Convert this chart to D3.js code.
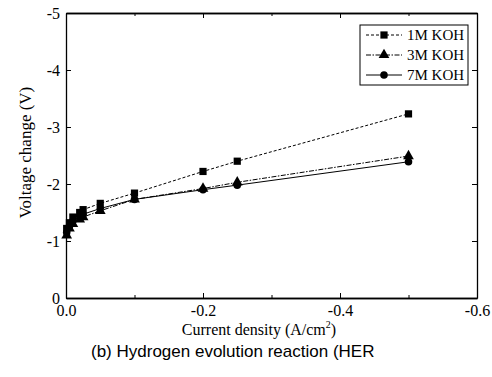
<!DOCTYPE html>
<html>
<head>
<meta charset="utf-8">
<script src="https://cdn.jsdelivr.net/npm/d3@7"></script>
<style>
  body { margin: 0; background: #fff; }
  svg { display: block; }
  .tick text { font-family: "Liberation Serif", serif; font-size: 16px; fill: #000; }
</style>
</head>
<body>
<div class="container"></div>
<script>
// current density (A/cm2) and voltage change (V)
var currentDensity = [-0.001, -0.005, -0.01, -0.02, -0.025, -0.05, -0.1, -0.2, -0.25, -0.5];
var koh1M = [-1.22, -1.32, -1.42, -1.50, -1.55, -1.66, -1.84, -2.22, -2.40, -3.23];
var koh3M = [-1.10, -1.22, -1.30, -1.38, -1.42, -1.53, -1.73, -1.92, -2.03, -2.49];
var koh7M = [-1.15, -1.26, -1.35, -1.43, -1.47, -1.57, -1.73, -1.90, -1.98, -2.39];
var seriesNames = ["1M KOH", "3M KOH", "7M KOH"];
var xTicks = [0, -0.2, -0.4, -0.6];
var xMinorTicks = [-0.1, -0.3, -0.5];
var yTicks = [0, -1, -2, -3, -4, -5];

var width = 492, height = 377;
var margin = {left: 66, right: 15, top: 13, bottom: 79};

var svg = d3.select(".container").append("svg")
    .attr("width", width).attr("height", height);

var x = d3.scaleLinear().domain([0, -0.6]).range([margin.left, width - margin.right]);
var y = d3.scaleLinear().domain([0, -5]).range([height - margin.bottom, margin.top]);

var series = [
    {name: seriesNames[0], values: koh1M, dash: "3,2", symbol: d3.symbolSquare, size: 52},
    {name: seriesNames[1], values: koh3M, dash: "5,1.5,1.5,1.5", symbol: d3.symbolTriangle, size: 50},
    {name: seriesNames[2], values: koh7M, dash: null, symbol: d3.symbolCircle, size: 45}
];

var fmtX = function(d){ return d.toFixed(1); };
var fmtY = function(d){ return String(d); };

// bottom axis with labels
svg.append("g")
    .attr("transform", "translate(0," + y(0) + ")")
    .call(d3.axisBottom(x).tickValues(xTicks).tickFormat(fmtX).tickSizeInner(-5).tickSizeOuter(0).tickPadding(7));
svg.append("g")
    .attr("transform", "translate(0," + y(0) + ")")
    .call(d3.axisBottom(x).tickValues(xMinorTicks).tickFormat("").tickSizeInner(-3).tickSizeOuter(0));
// top axis, ticks only
svg.append("g")
    .attr("transform", "translate(0," + y(-5) + ")")
    .call(d3.axisTop(x).tickValues(xTicks).tickFormat("").tickSizeInner(-5).tickSizeOuter(0));
svg.append("g")
    .attr("transform", "translate(0," + y(-5) + ")")
    .call(d3.axisTop(x).tickValues(xMinorTicks).tickFormat("").tickSizeInner(-3).tickSizeOuter(0));
// left axis
svg.append("g")
    .attr("transform", "translate(" + x(0) + ",0)")
    .call(d3.axisLeft(y).tickValues(yTicks).tickFormat(fmtY).tickSizeInner(-5).tickSizeOuter(0).tickPadding(6));
// right axis
svg.append("g")
    .attr("transform", "translate(" + x(-0.6) + ",0)")
    .call(d3.axisRight(y).tickValues(yTicks).tickFormat("").tickSizeInner(-5).tickSizeOuter(0));

svg.selectAll(".domain").attr("stroke", "#000").attr("stroke-width", 1.3);
svg.selectAll(".tick line").attr("stroke", "#000").attr("stroke-width", 1);

// lines and markers
var line = d3.line()
    .x(function(d, i){ return x(currentDensity[i]); })
    .y(function(d){ return y(d); });

series.forEach(function(s){
    svg.append("path")
        .attr("fill", "none")
        .attr("stroke", "#000")
        .attr("stroke-width", 1)
        .attr("stroke-dasharray", s.dash)
        .attr("d", line(s.values));
    svg.selectAll(null)
        .data(s.values)
        .enter().append("path")
        .attr("transform", function(d, i){ return "translate(" + x(currentDensity[i]) + "," + y(d) + ")"; })
        .attr("d", d3.symbol().type(s.symbol).size(s.size))
        .attr("fill", "#000");
});

// legend
var legend = svg.append("g").attr("transform", "translate(360,25)");
legend.append("rect")
    .attr("width", 108).attr("height", 60)
    .attr("fill", "#fff").attr("stroke", "#000").attr("stroke-width", 1);
series.forEach(function(s, i){
    var ly = 10 + i * 20;
    legend.append("line")
        .attr("x1", 6).attr("x2", 42).attr("y1", ly).attr("y2", ly)
        .attr("stroke", "#000").attr("stroke-width", 1)
        .attr("stroke-dasharray", s.dash);
    legend.append("path")
        .attr("transform", "translate(24," + ly + ")")
        .attr("d", d3.symbol().type(s.symbol).size(s.size))
        .attr("fill", "#000");
    legend.append("text")
        .attr("x", 47).attr("y", ly + 5)
        .attr("font-family", "Liberation Serif, serif")
        .attr("font-size", 15)
        .text(s.name);
});

// axis titles
var xt = svg.append("text")
    .attr("x", 259).attr("y", 335)
    .attr("text-anchor", "middle")
    .attr("font-family", "Liberation Serif, serif")
    .attr("font-size", 16);
xt.append("tspan").text("Current density (A/cm");
xt.append("tspan").attr("font-size", 10).attr("dy", -7).text("2");
xt.append("tspan").attr("dy", 7).text(")");

svg.append("text")
    .attr("transform", "translate(31," + y(-2.55) + ") rotate(-90)")
    .attr("text-anchor", "middle")
    .attr("font-family", "Liberation Serif, serif")
    .attr("font-size", 17)
    .text("Voltage change (V)");

// caption
svg.append("text")
    .attr("x", 91).attr("y", 357)
    .attr("font-family", "Liberation Sans, Arial, sans-serif")
    .attr("font-size", 17)
    .text("(b) Hydrogen evolution reaction (HER");
</script>
</body>
</html>
